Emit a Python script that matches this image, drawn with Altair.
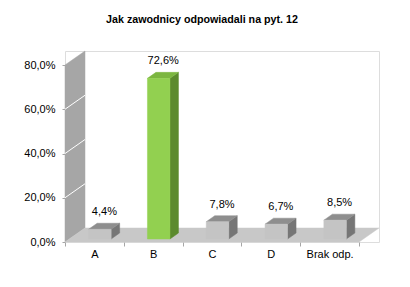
import json
import altair as alt
import pandas as pd

# ---------------- data ----------------
categories = ["A", "B", "C", "D", "Brak odp."]
values = [4.4, 72.6, 7.8, 6.7, 8.5]          # percent
bar_kind = ["gray", "green", "gray", "gray", "gray"]
y_ticks = [0, 20, 40, 60, 80]
title_text = "Jak zawodnicy odpowiadali na pyt. 12"

# ---------------- geometry (pixels -> data units) ----------------
W, H = 314, 191
Y_MAX = 80
N = len(categories)
WALL_DX_PX, WALL_DY_PX = 20, 14
PX_X = (W - WALL_DX_PX) / N
PX_Y = (H - WALL_DY_PX) / Y_MAX
WX = WALL_DX_PX / PX_X
WY = WALL_DY_PX / PX_Y
X_DOM = [0, N + WX]
Y_DOM = [0, Y_MAX + WY]

FX = 5.5 / PX_X      # bar front-face shift into depth
LIFT = 3 / PX_Y
BW = 22.5 / PX_X     # bar width
SX = 8.5 / PX_X      # bar depth
SY = 6 / PX_Y
LBL_DX = 10 / PX_X

palette = {
    "gray": {"front": "#c4c4c4", "top": "#8e8e8e", "side": "#767676"},
    "green": {"front": "#92d050", "top": "#7cb640", "side": "#5c8a2e"},
}
WALL_COLOR = "#a6a6a6"
FLOOR_COLOR = "#c8c8c8"

# ---------------- build tables ----------------
poly_rows = []
# wall
poly_rows += [
    dict(poly="wall", x=0, y=Y_MAX, y2=0, fill=WALL_COLOR),
    dict(poly="wall", x=WX, y=Y_MAX + WY, y2=WY, fill=WALL_COLOR),
]
# floor
poly_rows += [
    dict(poly="floor", x=0, y=0, y2=0, fill=FLOOR_COLOR),
    dict(poly="floor", x=WX, y=WY, y2=0, fill=FLOOR_COLOR),
    dict(poly="floor", x=N, y=WY, y2=0, fill=FLOOR_COLOR),
    dict(poly="floor", x=N + WX, y=WY, y2=WY, fill=FLOOR_COLOR),
]
back_df = pd.DataFrame(poly_rows)

grid_df = pd.DataFrame({
    "x": [0] * 3, "x2": [WX] * 3,
    "y": y_ticks[1:-1], "y2": [g + WY for g in y_ticks[1:-1]],
})

bar_poly = []
front_rows = []
label_rows = []
for i, (c, v, k) in enumerate(zip(categories, values, bar_kind)):
    x0 = i + 0.5 - BW / 2 + FX
    x1 = x0 + BW
    t = LIFT + v
    pal = palette[k]
    # side face
    bar_poly += [
        dict(poly=f"side{i}", x=x1, y=t, y2=LIFT, fill=pal["side"]),
        dict(poly=f"side{i}", x=x1 + SX, y=t + SY, y2=LIFT + SY, fill=pal["side"]),
    ]
    # top face
    bar_poly += [
        dict(poly=f"top{i}", x=x0, y=t, y2=t, fill=pal["top"]),
        dict(poly=f"top{i}", x=x0 + SX, y=t + SY, y2=t, fill=pal["top"]),
        dict(poly=f"top{i}", x=x1, y=t + SY, y2=t, fill=pal["top"]),
        dict(poly=f"top{i}", x=x1 + SX, y=t + SY, y2=t + SY, fill=pal["top"]),
    ]
    front_rows.append(dict(x=x0, x2=x1, y=LIFT, y2=t, fill=pal["front"]))
    label_rows.append(dict(x=i + 0.5 + LBL_DX, y=t,
                           label=f"{v:.1f}".replace(".", ",") + "%"))

bar_poly_df = pd.DataFrame(bar_poly)
front_df = pd.DataFrame(front_rows)
label_df = pd.DataFrame(label_rows)

FONT = "Liberation Sans"
label_arr = json.dumps(categories + [""])

x_axis = alt.Axis(
    values=list(range(N + 1)), labelExpr=f"{label_arr}[datum.value]",
    labelOffset=PX_X / 2, labelFlush=False, labelOverlap=False, labelBound=False,
    tickSize=4, tickColor="#a6a6a6", domain=False, grid=False,
    labelFont=FONT, labelFontSize=11, labelColor="#000000", labelPadding=2,
    title=None,
)
y_axis = alt.Axis(
    values=y_ticks,
    labelExpr="replace(format(datum.value / 100, '.1%'), '.', ',')",
    tickSize=3, tickColor="#a6a6a6", domain=False, grid=False,
    labelFont=FONT, labelFontSize=11, labelColor="#000000", labelPadding=7,
    title=None,
)
xs = alt.Scale(domain=X_DOM, nice=False, zero=False)
ys = alt.Scale(domain=Y_DOM, nice=False, zero=False)


def X(f="x"):
    return alt.X(f"{f}:Q", scale=xs, axis=x_axis)


def Y(f="y"):
    return alt.Y(f"{f}:Q", scale=ys, axis=y_axis)


back = alt.Chart(back_df).mark_area(strokeWidth=0.5, interpolate="linear").encode(
    x=X(), y=Y(), y2="y2:Q",
    color=alt.Color("fill:N", scale=None),
    stroke=alt.Stroke("fill:N", scale=None),
    detail="poly:N",
)

grid = alt.Chart(grid_df).mark_rule(color="#ffffff", strokeWidth=1).encode(
    x=X(), x2="x2:Q", y=Y(), y2="y2:Q",
)

bar3d = alt.Chart(bar_poly_df).mark_area(strokeWidth=0.5, interpolate="linear").encode(
    x=X(), y=Y(), y2="y2:Q",
    color=alt.Color("fill:N", scale=None),
    stroke=alt.Stroke("fill:N", scale=None),
    detail="poly:N",
)

front = alt.Chart(front_df).mark_rect(strokeWidth=0.5).encode(
    x=X(), x2="x2:Q", y=Y(), y2="y2:Q",
    color=alt.Color("fill:N", scale=None),
    stroke=alt.Stroke("fill:N", scale=None),
)

labels = alt.Chart(label_df).mark_text(
    font=FONT, fontSize=11, color="#000000", baseline="middle", align="center", dy=-17,
).encode(x=X(), y=Y(), text="label:N")

chart = alt.layer(back, grid, bar3d, front, labels).properties(
    width=W, height=H,
    title=alt.TitleParams(
        title_text, font=FONT, fontSize=10.7, fontWeight="bold", color="#000000",
        anchor="middle", offset=24, dx=-20,
    ),
    autosize=alt.AutoSizeParams(type="none"),
    padding={"left": 65, "top": 51, "right": 31, "bottom": 45},
).configure_view(stroke=None).configure(background="#ffffff")

chart.save("out.html", embed_options={"renderer": "svg", "actions": False})
